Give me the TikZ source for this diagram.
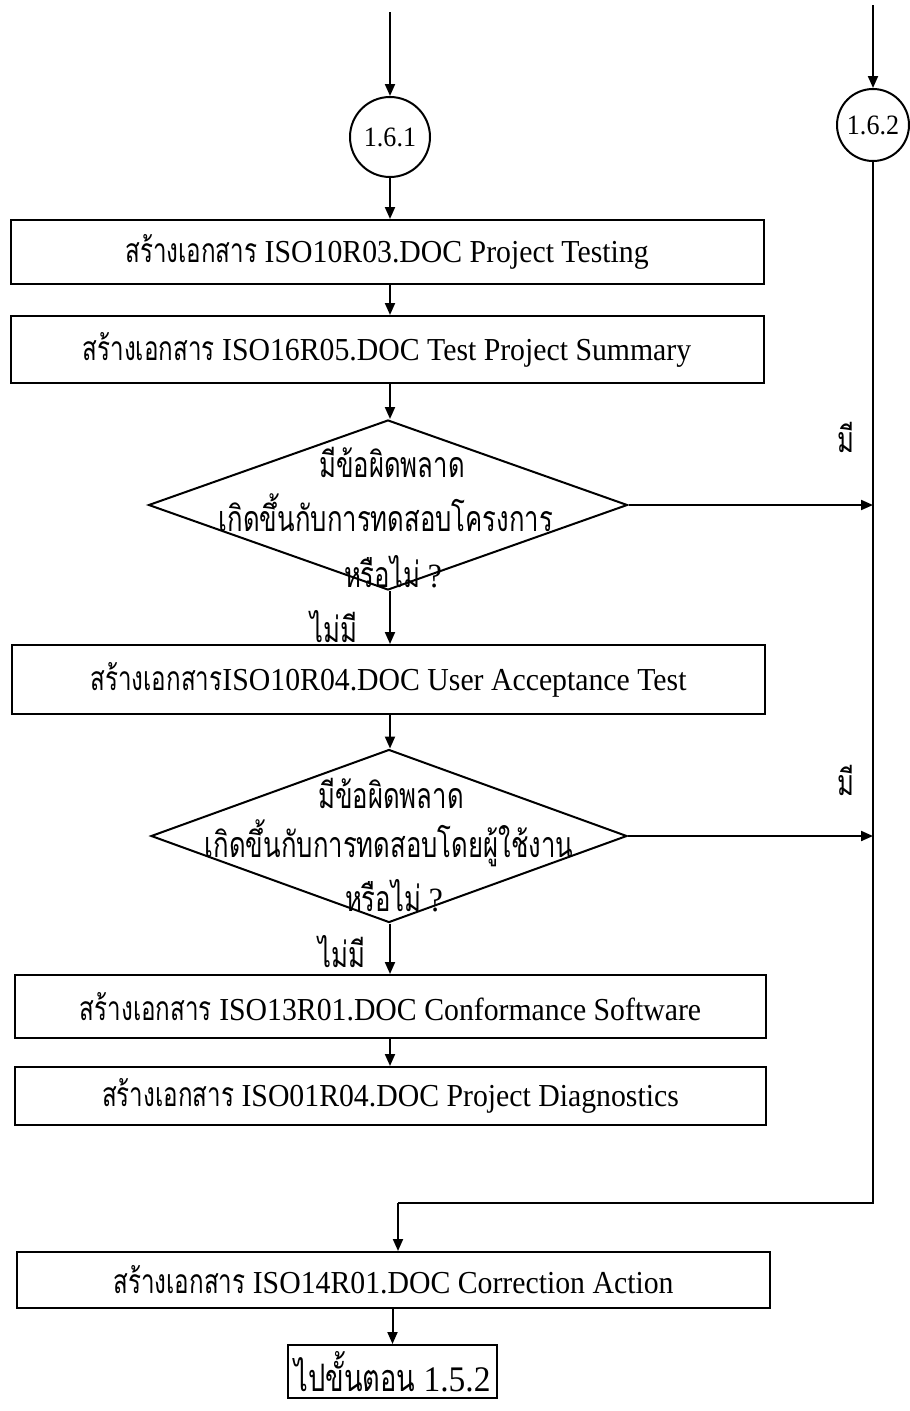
\documentclass[tikz,border=0pt]{standalone}
\usepackage{fontspec}
\setmainfont{Liberation Serif}[FakeStretch=0.93]
\newfontfamily\thaifont[Script=Thai,FakeStretch=0.72,Scale=1.05]{Loma}
\usetikzlibrary{shapes.geometric,arrows.meta}
\newcommand{\thx}[1]{{\thaifont #1}}
\begin{document}
\begin{tikzpicture}[x=1pt,y=-1pt,
  lw/.style={line width=2pt},
  arr/.style={lw,-{Triangle[length=12pt,width=10pt]}},
  stepbox/.style={draw,lw,rectangle,inner sep=0pt,font=\fontsize{32}{36}\selectfont},
  conn/.style={draw,lw,circle,inner sep=0pt,font=\fontsize{28}{30}\selectfont},
  dec/.style={draw,lw,diamond,inner sep=0pt},
  txt/.style={inner sep=0pt,font=\fontsize{34}{36}\selectfont}]
\useasboundingbox (0,0) rectangle (910,1411);
\fill[white] (0,0) rectangle (910,1411);
% connectors (circles)
\node[conn,minimum size=80pt] (circA) at (390,137) {1.6.1};
\node[conn,minimum size=72pt] (circB) at (873,125) {1.6.2};
\coordinate (topA) at (390,12);
\coordinate (topB) at (873,5);
% boxes
\node[stepbox,minimum width=753pt,minimum height=64pt] (box1) at (387,252) {\thx{สร้างเอกสาร} ISO10R03.DOC Project Testing};
\node[stepbox,minimum width=753pt,minimum height=67pt] (box2) at (387,349.5) {\thx{สร้างเอกสาร} ISO16R05.DOC Test Project Summary};
\node[dec,minimum width=479pt,minimum height=170pt] (dia1) at (388,505) {};
\node[txt] (d1a) at (392,462) {\thx{มีข้อผิดพลาด}};
\node[txt] (d1b) at (386,513) {\thx{เกิดขึ้นกับการทดสอบโครงการ}};
\node[txt] (d1c) at (393,572) {\thx{หรือไม่} ?};
\node[stepbox,minimum width=753pt,minimum height=69pt] (box3) at (388.5,679.5) {\thx{สร้างเอกสาร}ISO10R04.DOC User Acceptance Test};
\node[dec,minimum width=476pt,minimum height=173pt] (dia2) at (389,836) {};
\node[txt] (d2a) at (391,793) {\thx{มีข้อผิดพลาด}};
\node[txt] (d2b) at (389,843) {\thx{เกิดขึ้นกับการทดสอบโดยผู้ใช้งาน}};
\node[txt] (d2c) at (394,896) {\thx{หรือไม่} ?};
\node[stepbox,minimum width=751pt,minimum height=63pt] (box4) at (390.5,1006.5) {\thx{สร้างเอกสาร} ISO13R01.DOC Conformance Software};
\node[stepbox,minimum width=751pt,minimum height=58pt] (box5) at (390.5,1096) {\thx{สร้างเอกสาร} ISO01R04.DOC Project Diagnostics};
\node[stepbox,minimum width=753pt,minimum height=56pt] (box6) at (393.5,1280) {\thx{สร้างเอกสาร} ISO14R01.DOC Correction Action};
\node[stepbox,minimum width=209pt,minimum height=53pt,font=\fontsize{36}{38}\selectfont] (goto) at (392.5,1371.5) {\thx{ไปขั้นตอน} 1.5.2};
% labels
\node[txt] (yes1) at (846,437) {\thx{มี}};
\node[txt] (yes2) at (846,780) {\thx{มี}};
\node[txt] (no1) at (334,627) {\thx{ไม่มี}};
\node[txt] (no2) at (342,952) {\thx{ไม่มี}};
% join point
\coordinate (jn) at (398,1203);
% arrows
\draw[arr] (topA) -- (circA.north);
\draw[arr] (topB) -- (circB.north);
\draw[arr] (circA.south) -- (circA.south |- box1.north);
\draw[arr] (box1.south -| circA) -- (box2.north -| circA);
\draw[arr] (box2.south -| circA) -- (dia1.north -| circA);
\draw[arr] (dia1.south -| circA) -- (box3.north -| circA);
\draw[arr] (box3.south -| circA) -- (dia2.north -| circA);
\draw[arr] (dia2.south -| circA) -- (box4.north -| circA);
\draw[arr] (box4.south -| circA) -- (box5.north -| circA);
\draw[arr] (dia1.east) -- (dia1.east -| circB);
\draw[arr] (dia2.east) -- (dia2.east -| circB);
\draw[lw] (circB.south) |- (jn);
\draw[arr] (jn) -- (jn |- box6.north);
\draw[arr] (box6.south -| goto) -- (goto.north);
\end{tikzpicture}
\end{document}
